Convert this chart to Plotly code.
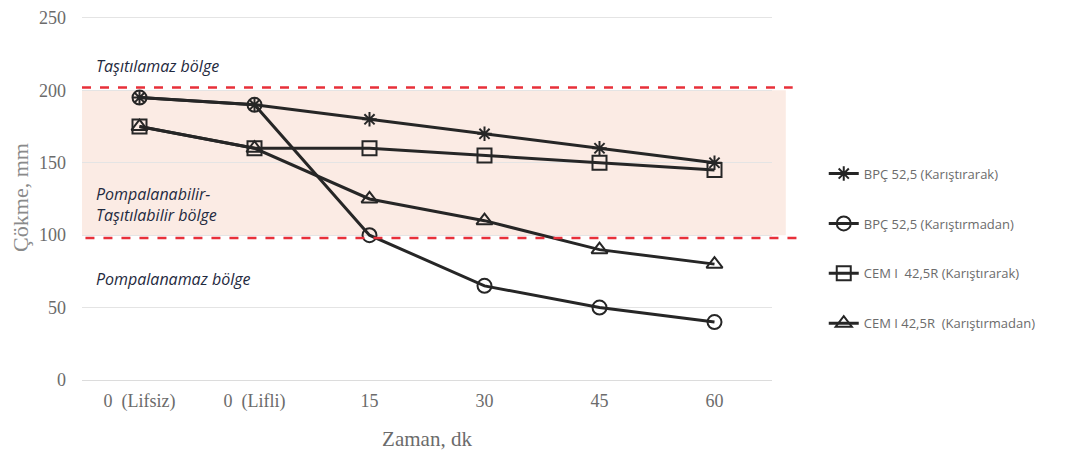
import plotly.graph_objects as go

categories = ["0  (Lifsiz)", "0  (Lifli)", "15", "30", "45", "60"]
bpc_karistirarak = [195, 190, 180, 170, 160, 150]
bpc_karistirmadan = [195, 190, 100, 65, 50, 40]
cem_karistirarak = [175, 160, 160, 155, 150, 145]
cem_karistirmadan = [175, 160, 125, 110, 90, 80]
series_names = ["BPÇ 52,5 (Karıştırarak)", "BPÇ 52,5 (Karıştırmadan)",
                "CEM I  42,5R (Karıştırarak)", "CEM I 42,5R  (Karıştırmadan)"]
upper_limit = 202
lower_limit = 98

fig = go.Figure()
series = [bpc_karistirarak, bpc_karistirmadan, cem_karistirarak, cem_karistirmadan]
symbols = ["asterisk-open", "circle-open", "square-open", "triangle-up-open"]
sizes = [12, 14, 14, 14]
for i, (name, vals, sym, sz) in enumerate(zip(series_names, series, symbols, sizes)):
    fig.add_trace(go.Scatter(
        x=categories, y=vals, name=name, mode="lines+markers",
        legendgroup=f"g{i}",
        line=dict(color="#262626", width=3),
        marker=dict(symbol=sym, size=sz, color="#262626",
                    line=dict(color="#262626", width=2)),
    ))

fig.add_shape(type="rect", xref="paper", yref="y", x0=0, x1=1.02,
              y0=lower_limit + 2, y1=upper_limit - 2,
              fillcolor="#fbebe4", line=dict(width=0), layer="below")
fig.add_shape(type="line", xref="paper", yref="y", x0=0, x1=1.03,
              y0=upper_limit, y1=upper_limit,
              line=dict(color="#e8303a", width=2.5, dash="dash"))
fig.add_shape(type="line", xref="paper", yref="y", x0=0.005, x1=1.04,
              y0=lower_limit, y1=lower_limit,
              line=dict(color="#e8303a", width=2.5, dash="dash"))

ann_font = dict(family="Open Sans, sans-serif", size=16, color="#1f2a40")
fig.add_annotation(text="<i>Taşıtılamaz bölge</i>", xref="paper", yref="y",
                   x=0.017, y=217, xanchor="left", yanchor="middle",
                   showarrow=False, font=ann_font)
fig.add_annotation(text="<i>Pompalanabilir-<br>Taşıtılabilir bölge</i>", xref="paper", yref="y",
                   x=0.017, y=121, xanchor="left", yanchor="middle",
                   showarrow=False, font=ann_font, align="left")
fig.add_annotation(text="<i>Pompalanamaz bölge</i>", xref="paper", yref="y",
                   x=0.017, y=70, xanchor="left", yanchor="middle",
                   showarrow=False, font=ann_font)

serif = "Liberation Serif, Times New Roman, serif"
fig.update_layout(
    width=1059, height=451,
    margin=dict(l=74, r=295, t=7, b=79, autoexpand=False),
    plot_bgcolor="white", paper_bgcolor="white",
    showlegend=True,
    legend=dict(x=1.075, y=0.36, xanchor="left", yanchor="middle",
                font=dict(family="Open Sans, sans-serif", size=13, color="#6b6b6b"),
                tracegroupgap=30, bgcolor="rgba(0,0,0,0)"),
    xaxis=dict(type="category", range=[-0.5, 5.5], showgrid=False, showline=False, ticks="",
               ticklabelstandoff=8, automargin=False,
               tickfont=dict(family=serif, size=18, color="#6b6b6b"),
               title=dict(text="Zaman, dk", font=dict(family=serif, size=21, color="#6b6b6b"),
                          standoff=20)),
    yaxis=dict(range=[0, 252], tickvals=[0, 50, 100, 150, 200, 250],
               showgrid=True, gridcolor="#e4e4e4",
               zeroline=True, zerolinecolor="#dcdcdc", zerolinewidth=1,
               showline=False, ticks="", ticklabelstandoff=15, automargin=False,
               ticklabeloverflow="allow",
               tickfont=dict(family=serif, size=18, color="#6b6b6b"),
               title=dict(text="Çökme, mm", font=dict(family=serif, size=22, color="#8a8a8a"),
                          standoff=18)),
)

fig.write_html("out.html")
